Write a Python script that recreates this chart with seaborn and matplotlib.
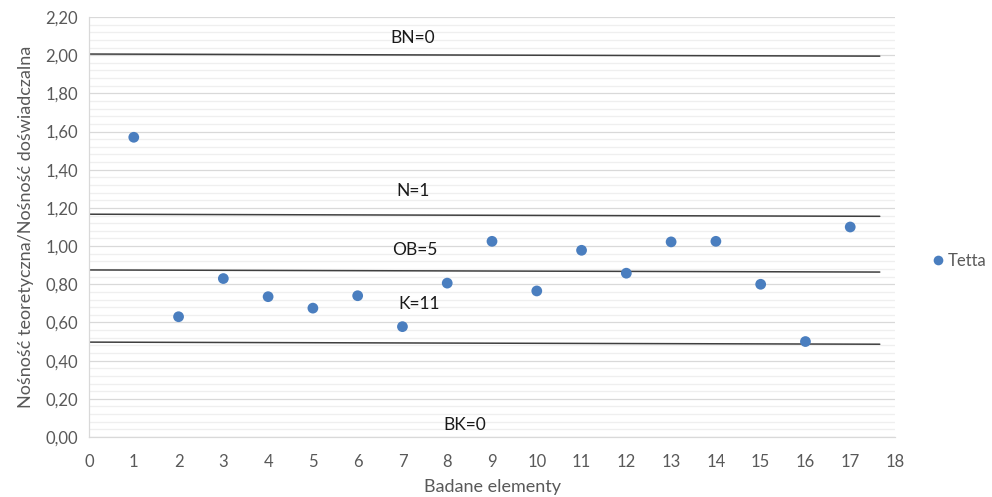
import numpy as np
import pandas as pd
import matplotlib
matplotlib.use("Agg")
import matplotlib.pyplot as plt
from matplotlib.ticker import FuncFormatter, MultipleLocator
import seaborn as sns

# ---- data ----
elements = [1, 2, 3, 4, 5, 6, 7, 8, 9, 10, 11, 12, 13, 14, 15, 16, 17]
tetta = [1.57, 0.63, 0.83, 0.735, 0.675, 0.74, 0.578, 0.806, 1.025, 0.765,
         0.978, 0.858, 1.022, 1.025, 0.80, 0.50, 1.10]

line_labels = ["BN=0", "N=1", "OB=5", "K=11"]
line_y_start = [2.006, 1.167, 0.875, 0.497]
line_y_end = [1.995, 1.156, 0.864, 0.486]
line_x = [0.0, 17.66]

ann_text = ["BN=0", "N=1", "OB=5", "K=11", "BK=0"]
ann_x = [7.23, 7.23, 7.28, 7.38, 8.4]
ann_y = [2.09, 1.29, 0.98, 0.695, 0.063]

x_ticks = list(range(0, 19))
y_ticks = [0.0, 0.2, 0.4, 0.6, 0.8, 1.0, 1.2, 1.4, 1.6, 1.8, 2.0, 2.2]

# ---- plot ----
sns.set_theme(style="white")
plt.rcParams['font.family'] = ['Lato', 'DejaVu Sans']

fig = plt.figure(figsize=(9.92, 4.97), dpi=100)
ax = fig.add_axes([89/992, 1 - 437/497, (895-89)/992, (437-17)/497])

df = pd.DataFrame({"Badane elementy": elements, "Tetta": tetta, "serie": "Tetta"})

for ys, ye in zip(line_y_start, line_y_end):
    ax.plot(line_x, [ys, ye], color="#3f3f3f", lw=1.1, zorder=2)

sns.scatterplot(data=df, x="Badane elementy", y="Tetta", hue="serie",
                palette=["#4a7ebf"], s=60, edgecolor="none", ax=ax, zorder=3)

for t, x, y in zip(ann_text, ann_x, ann_y):
    ax.text(x, y, t, ha="center", va="center", fontsize=12.5, color="#1a1a1a")

ax.set_xlim(0, 18)
ax.set_ylim(0, 2.2)
ax.set_xticks(x_ticks)
ax.set_yticks(y_ticks)
ax.yaxis.set_minor_locator(MultipleLocator(0.04))
ax.yaxis.set_major_formatter(FuncFormatter(lambda v, p: f"{v:.2f}".replace(".", ",")))

ax.grid(axis="y", which="major", color="#d9d9d9", lw=0.9, zorder=0)
ax.grid(axis="y", which="minor", color="#efefef", lw=0.9, zorder=0)
ax.set_axisbelow(True)

for s in ["top", "right"]:
    ax.spines[s].set_visible(False)
for s in ["left", "bottom"]:
    ax.spines[s].set_color("#d9d9d9")
    ax.spines[s].set_linewidth(0.9)

ax.tick_params(axis="both", which="both", length=0, colors="#595959", labelsize=12)
ax.tick_params(axis="x", pad=12)
ax.tick_params(axis="y", pad=8)

ax.set_xlabel("Badane elementy", fontsize=13, color="#595959", labelpad=7)
ax.set_ylabel("Nośność teoretyczna/Nośność doświadczalna", fontsize=13, color="#595959", labelpad=8)

leg = ax.legend(loc="center left", bbox_to_anchor=(1.045, 0.42), frameon=False,
                fontsize=12, handletextpad=0.2, handlelength=0.8, borderpad=0,
                borderaxespad=0, markerscale=0.9)
for t in leg.get_texts():
    t.set_color("#595959")

fig.savefig("out.png", dpi=100)
